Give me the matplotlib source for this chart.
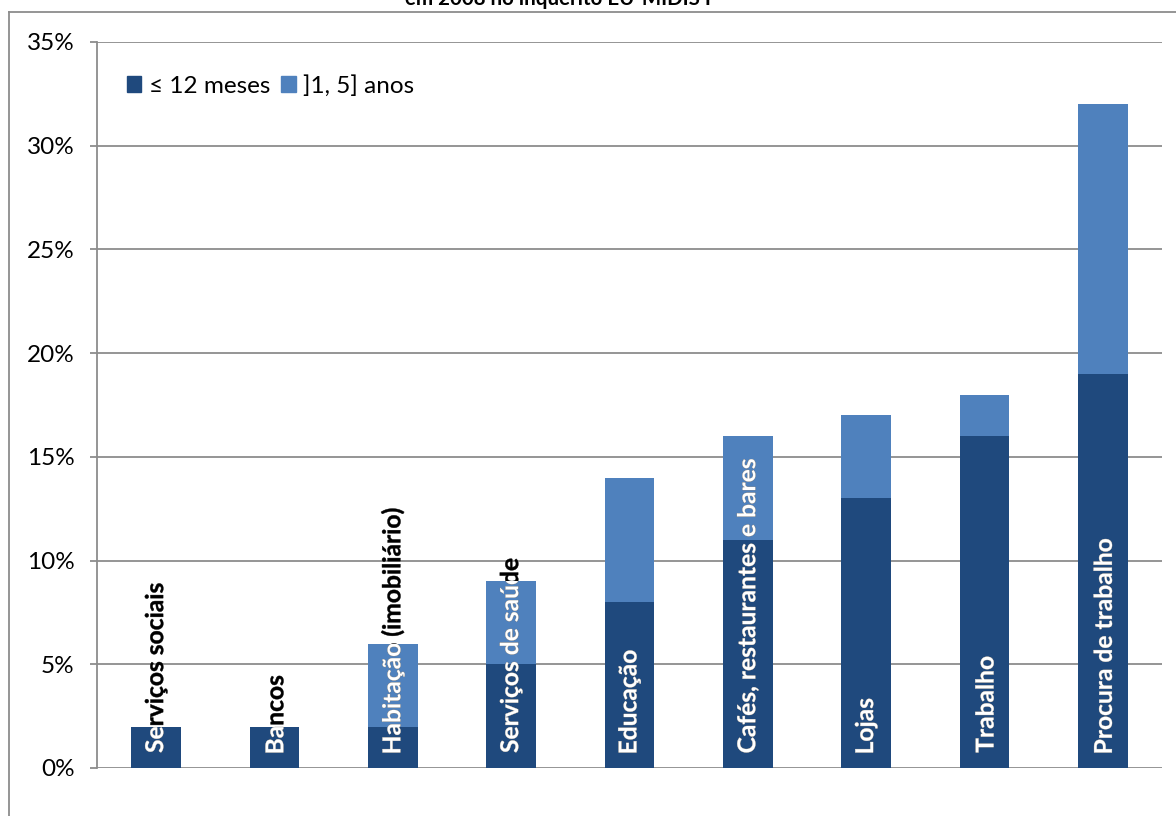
import matplotlib.pyplot as plt
from matplotlib.patches import Rectangle, Patch, PathPatch
from matplotlib.lines import Line2D
from matplotlib.textpath import TextPath
from matplotlib.font_manager import FontProperties
import matplotlib.transforms as mtransforms
import numpy as np

# dados
categorias = ["Serviços sociais", "Bancos", "Habitação (imobiliário)", "Serviços de saúde",
              "Educação", "Cafés, restaurantes e bares", "Lojas", "Trabalho", "Procura de trabalho"]
ate_12_meses = [2, 2, 2, 5, 8, 11, 13, 16, 19]
entre_1_5_anos = [0, 0, 4, 4, 6, 5, 4, 2, 13]
series_legenda = ["≤ 12 meses", "]1, 5] anos"]
yticks = [0, 5, 10, 15, 20, 25, 30, 35]
titulo = "em 2008 no inquérito EU-MIDIS I"

cor_escura = "#1F497D"
cor_clara = "#4F81BD"
cor_grelha = "#8C8C8C"
fonte = ["Lato", "DejaVu Sans"]

plt.rcParams["font.family"] = fonte

fig = plt.figure(figsize=(11.76, 8.16), dpi=100)
ax = fig.add_axes([97/1176, 1 - 768/816, 1065/1176, 726/816])

x = np.arange(len(categorias))
largura = 0.42
b1 = ax.bar(x, ate_12_meses, largura, color=cor_escura, zorder=3)
b2 = ax.bar(x, entre_1_5_anos, largura, bottom=ate_12_meses, color=cor_clara, zorder=3)

ax.set_xlim(-0.5, len(categorias) - 0.5)
ax.set_ylim(0, 35)
ax.set_yticks(yticks)
ax.set_yticklabels([f"{v}%" for v in yticks], fontsize=17.5)
ax.set_xticks([])
ax.yaxis.grid(True, color=cor_grelha, linewidth=1.3, zorder=0)
ax.tick_params(axis="y", length=5, width=1.3, color=cor_grelha, pad=11)
for lado in ["top", "right", "bottom"]:
    ax.spines[lado].set_visible(False)
ax.spines["left"].set_color(cor_grelha)
ax.spines["left"].set_linewidth(1.3)

# rótulos das categorias: preto fora da barra, branco dentro da barra
# (texto como path para poder recortar a parte branca pela barra)
fp = FontProperties(family="Lato", weight="bold")
tam = 17.7
escala = fig.dpi / 72.0
for i, nome in enumerate(categorias):
    total = ate_12_meses[i] + entre_1_5_anos[i]
    tp = TextPath((0, 0), nome, size=tam, prop=fp)
    ext = tp.get_extents()
    base = (mtransforms.Affine2D()
            .translate(-ext.x0, -(ext.y0 + ext.y1) / 2)
            .rotate_deg(90)
            .scale(escala))
    trans = base + mtransforms.ScaledTranslation(i, 0.75, ax.transData)
    ax.add_patch(PathPatch(tp, transform=trans, facecolor="black", edgecolor="black",
                           linewidth=0.3, zorder=4))
    branco = PathPatch(tp, transform=trans, facecolor="white", edgecolor="white",
                       linewidth=0.3, zorder=5)
    ax.add_patch(branco)
    branco.set_clip_path(Rectangle((i - largura / 2, 0), largura, total, transform=ax.transData))

handles = [Patch(color=cor_escura), Patch(color=cor_clara)]
ax.legend(handles, series_legenda, loc="upper left", bbox_to_anchor=(122/1176, 1 - 70/816),
          bbox_transform=fig.transFigure, ncol=2, frameon=False, fontsize=17.5,
          handlelength=0.6, handleheight=0.6, handletextpad=0.3, columnspacing=0.45,
          borderaxespad=0, borderpad=0.2)

fig.text(558/1176, 1 - 5/816, titulo, ha="center", va="baseline",
         fontsize=14.8, fontweight="bold")

# moldura exterior
fig.add_artist(Line2D([9/1176, 9/1176], [0, 1 - 12/816], transform=fig.transFigure,
                      color=cor_grelha, linewidth=1.3))
fig.add_artist(Line2D([9/1176, 1], [1 - 12/816, 1 - 12/816], transform=fig.transFigure,
                      color=cor_grelha, linewidth=1.3))

fig.savefig("out.png", dpi=100)
